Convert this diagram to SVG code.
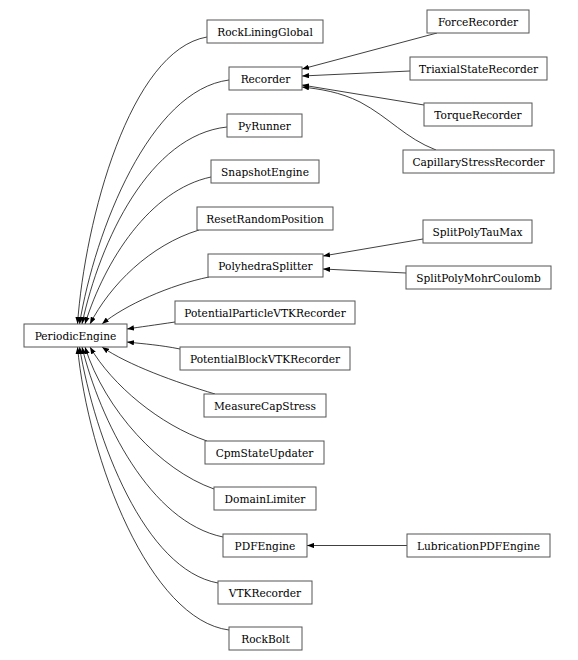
<svg xmlns="http://www.w3.org/2000/svg" width="578" height="660" viewBox="0 0 578 660">
<style>
.n rect{fill:#fff;stroke:#555;stroke-width:1}
.n text{fill:#000;text-anchor:middle}
.e path{fill:none;stroke:#000;stroke-width:0.75;marker-end:url(#ah)}
</style>
<defs>
<marker id="ah" viewBox="0 0 8 6" refX="8" refY="3" markerWidth="7" markerHeight="5.5" markerUnits="userSpaceOnUse" orient="auto">
<path d="M0,0 L8,3 L0,6 z" fill="#000"/>
</marker>
</defs>
<rect width="578" height="660" fill="#fff"/>
<g id="edges" class="e">
<path d="M207,37 C130,50 85,220 77.5,324"/>
<path d="M229,80 C150,90 95,230 79.5,324"/>
<path d="M227,127 C150,135 100,240 82,324"/>
<path d="M211,177 C150,190 105,260 85,324"/>
<path d="M199,230 C150,245 110,285 90,324"/>
<path d="M209,277 C170,285 125,305 102,324"/>
<path d="M175,322 C155,325 140,327 127,329"/>
<path d="M180,349 C160,345 145,344 127,342"/>
<path d="M215,394 C175,382 128,365 102,347"/>
<path d="M207,441 C160,425 112,385 90,347"/>
<path d="M214,489 C160,470 105,410 85,347"/>
<path d="M223,537 C150,522 100,420 82,347"/>
<path d="M218,583 C145,570 95,440 79.5,347"/>
<path d="M229,630 C150,620 88,460 77.5,347"/>
<path d="M437,33 L302,69"/>
<path d="M410,71 L302,76"/>
<path d="M424,105 L302,85"/>
<path d="M436,150 C405,138 390,118 360,102 C340,92 320,89 302,87"/>
<path d="M423,239 L323,256"/>
<path d="M406,273 L323,269"/>
<path d="M407,545.5 L307,545.5"/>
</g>
<g font-family="DejaVu Serif, Liberation Serif, serif" font-size="10.6">
<g id="PeriodicEngine" class="n"><rect x="24" y="324" width="103" height="23"/><text x="75.5" y="339.5">PeriodicEngine</text></g>
<g id="RockLiningGlobal" class="n"><rect x="207" y="20" width="116" height="23"/><text x="265" y="35.5">RockLiningGlobal</text></g>
<g id="Recorder" class="n"><rect x="229" y="67" width="73" height="23"/><text x="265.5" y="82.5">Recorder</text></g>
<g id="PyRunner" class="n"><rect x="227" y="114" width="75" height="23"/><text x="264.5" y="129.5">PyRunner</text></g>
<g id="SnapshotEngine" class="n"><rect x="211" y="160" width="108" height="23"/><text x="265" y="175.5">SnapshotEngine</text></g>
<g id="ResetRandomPosition" class="n"><rect x="197" y="207" width="136" height="23"/><text x="265" y="222.5">ResetRandomPosition</text></g>
<g id="PolyhedraSplitter" class="n"><rect x="208" y="254" width="115" height="23"/><text x="265.5" y="269.5">PolyhedraSplitter</text></g>
<g id="PotentialParticleVTKRecorder" class="n"><rect x="175" y="301" width="180" height="23"/><text x="265" y="316.5">PotentialParticleVTKRecorder</text></g>
<g id="PotentialBlockVTKRecorder" class="n"><rect x="180" y="347" width="170" height="23"/><text x="265" y="362.5">PotentialBlockVTKRecorder</text></g>
<g id="MeasureCapStress" class="n"><rect x="204" y="394" width="122" height="23"/><text x="265" y="409.5">MeasureCapStress</text></g>
<g id="CpmStateUpdater" class="n"><rect x="205" y="441" width="119" height="23"/><text x="264.5" y="456.5">CpmStateUpdater</text></g>
<g id="DomainLimiter" class="n"><rect x="214" y="487" width="102" height="23"/><text x="265" y="502.5">DomainLimiter</text></g>
<g id="PDFEngine" class="n"><rect x="223" y="534" width="84" height="23"/><text x="265" y="549.5">PDFEngine</text></g>
<g id="VTKRecorder" class="n"><rect x="218" y="581" width="94" height="23"/><text x="265" y="596.5">VTKRecorder</text></g>
<g id="RockBolt" class="n"><rect x="229" y="627" width="73" height="23"/><text x="265.5" y="642.5">RockBolt</text></g>
<g id="ForceRecorder" class="n"><rect x="427" y="10" width="102" height="23"/><text x="478" y="25.5">ForceRecorder</text></g>
<g id="TriaxialStateRecorder" class="n"><rect x="410" y="57" width="137" height="23"/><text x="478.5" y="72.5">TriaxialStateRecorder</text></g>
<g id="TorqueRecorder" class="n"><rect x="424" y="103" width="108" height="23"/><text x="478" y="118.5">TorqueRecorder</text></g>
<g id="CapillaryStressRecorder" class="n"><rect x="403" y="150" width="151" height="23"/><text x="478.5" y="165.5">CapillaryStressRecorder</text></g>
<g id="SplitPolyTauMax" class="n"><rect x="423" y="220" width="109" height="23"/><text x="477.5" y="235.5">SplitPolyTauMax</text></g>
<g id="SplitPolyMohrCoulomb" class="n"><rect x="406" y="266" width="145" height="23"/><text x="478.5" y="281.5">SplitPolyMohrCoulomb</text></g>
<g id="LubricationPDFEngine" class="n"><rect x="407" y="534" width="143" height="23"/><text x="478.5" y="549.5">LubricationPDFEngine</text></g>
</g>
</svg>
